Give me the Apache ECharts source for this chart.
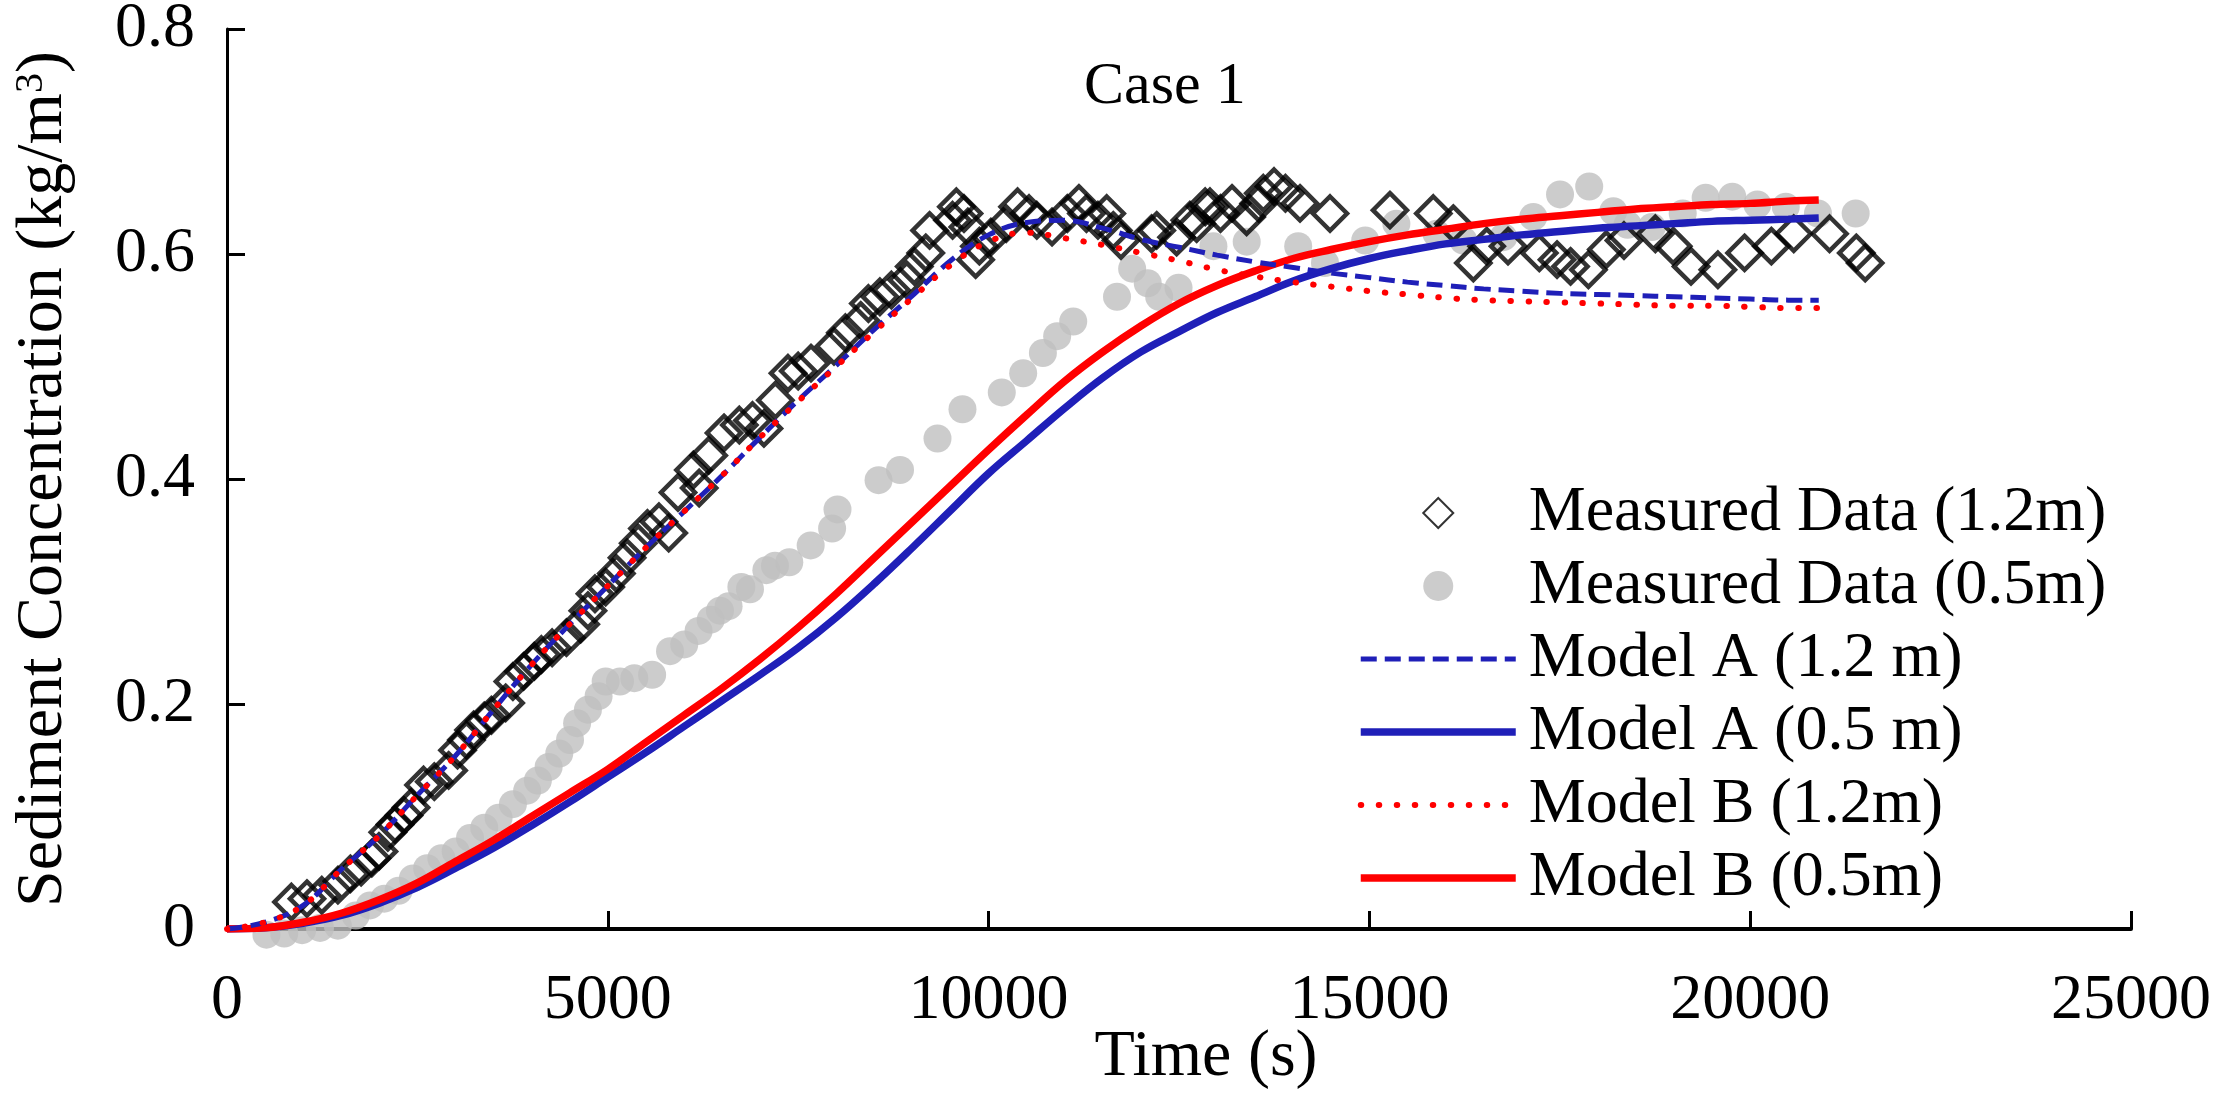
<!DOCTYPE html>
<html>
<head>
    <meta charset="utf-8">
    <title>Case 1</title>
    <script src="https://cdn.jsdelivr.net/npm/echarts@6/dist/echarts.min.js"></script>
    <style>html, body { margin: 0; padding: 0; background: #fff; }</style>
</head>
<body>
    <div id="main" style="width: 2217px;height:1103px;"></div>

    <script type="text/javascript">
        // measured points
        var m12Time = [846, 1050, 1245, 1456, 1620, 1761, 1901, 1995, 2112, 2206, 2323, 2417, 2581, 2722, 2910, 3027, 3144, 3238, 3378, 3472,
            3659, 3754, 3894, 4035, 4128, 4269, 4457, 4644, 4739, 4832, 4972, 5113, 5253, 5400, 5521, 5672, 5800, 5922, 6124, 6200,
            6325, 6526, 6727, 6900, 7050, 7200, 7366, 7500, 7668, 7970, 8120, 8321, 8422, 8573, 8724, 8925, 9024, 9175, 9225, 9527,
            9577, 9677, 9728, 9830, 9879, 10030, 10231, 10381, 10531, 10633, 10833, 11034, 11186, 11285, 11436, 11551, 11637, 11738, 12140, 12207,
            12469, 12643, 12732, 12844, 12907, 13045, 13196, 13388, 13547, 13607, 13748, 13898, 14089, 14483, 15270, 15839, 16102, 16365, 16540, 16820,
            17231, 17464, 17641, 17876, 18111, 18343, 18755, 18989, 19223, 19576, 19926, 20278, 20572, 21042, 21393, 21510];
        var m12Conc = [0.024, 0.027, 0.030, 0.039, 0.049, 0.055, 0.063, 0.069, 0.086, 0.093, 0.101, 0.108, 0.128, 0.131, 0.141, 0.159, 0.168, 0.177, 0.185, 0.190,
            0.201, 0.220, 0.229, 0.238, 0.244, 0.250, 0.259, 0.271, 0.283, 0.298, 0.304, 0.316, 0.330, 0.343, 0.356, 0.362, 0.352, 0.388, 0.408, 0.392,
            0.421, 0.441, 0.448, 0.452, 0.445, 0.470, 0.494, 0.496, 0.503, 0.518, 0.530, 0.541, 0.556, 0.562, 0.568, 0.577, 0.589, 0.601, 0.621, 0.630,
            0.642, 0.636, 0.624, 0.595, 0.607, 0.615, 0.627, 0.642, 0.636, 0.630, 0.624, 0.636, 0.645, 0.636, 0.630, 0.636, 0.621, 0.612, 0.618, 0.621,
            0.615, 0.630, 0.627, 0.642, 0.642, 0.636, 0.645, 0.633, 0.645, 0.654, 0.660, 0.654, 0.645, 0.636, 0.639, 0.636, 0.627, 0.592, 0.607, 0.607,
            0.601, 0.595, 0.589, 0.586, 0.604, 0.612, 0.618, 0.607, 0.589, 0.586, 0.601, 0.607, 0.618, 0.618, 0.601, 0.592];

        var m05Time = [518, 752, 986, 1221, 1456, 1690, 1878, 2065, 2253, 2441, 2628, 2815, 3003, 3191, 3378, 3566, 3754, 3941, 4082, 4223,
            4363, 4504, 4597, 4739, 4879, 4972, 5160, 5348, 5582, 5817, 6004, 6192, 6351, 6473, 6586, 6754, 6867, 7082, 7195, 7383,
            7664, 7945, 8016, 8555, 8837, 9329, 9657, 10173, 10454, 10713, 10900, 11111, 11686, 11885, 12090, 12240, 12494, 12952, 13389, 14065,
            14417, 14945, 15354, 15882, 16233, 16758, 17152, 17503, 17886, 18203, 18390, 18710, 19114, 19415, 19765, 20094, 20467, 20890, 21385];
        var m05Conc = [-0.005, -0.004, -0.001, 0.001, 0.003, 0.012, 0.021, 0.027, 0.034, 0.045, 0.054, 0.063, 0.069, 0.081, 0.090, 0.099, 0.111, 0.123, 0.132, 0.144,
            0.156, 0.168, 0.183, 0.195, 0.207, 0.220, 0.220, 0.223, 0.226, 0.247, 0.253, 0.265, 0.275, 0.283, 0.287, 0.304, 0.302, 0.319, 0.323, 0.326,
            0.341, 0.356, 0.373, 0.399, 0.408, 0.436, 0.462, 0.477, 0.494, 0.512, 0.527, 0.540, 0.562, 0.587, 0.574, 0.562, 0.570, 0.607, 0.611, 0.607,
            0.592, 0.612, 0.627, 0.618, 0.612, 0.615, 0.633, 0.653, 0.660, 0.638, 0.626, 0.624, 0.636, 0.650, 0.651, 0.644, 0.642, 0.636, 0.636];

        // model curves, common time grid (every 500 s)
        var modelTime = [0, 500, 1000, 1500, 2000, 2500, 3000, 3500, 4000, 4500, 5000, 5500, 6000, 6500, 7000, 7500, 8000, 8500,
            9000, 9500, 10000, 10500, 11000, 11500, 12000, 12500, 13000, 13500, 14000, 14500, 15000, 15500, 16000, 16500,
            17000, 17500, 18000, 18500, 19000, 19500, 20000, 20500, 20900];
        var modelA12 = [0, 0.006, 0.021, 0.053, 0.083, 0.119, 0.154, 0.195, 0.235, 0.271, 0.305, 0.339, 0.371, 0.403, 0.437, 0.470, 0.501, 0.533,
            0.563, 0.594, 0.617, 0.628, 0.630, 0.623, 0.613, 0.606, 0.599, 0.593, 0.588, 0.583, 0.579, 0.575, 0.572, 0.569,
            0.567, 0.565, 0.564, 0.563, 0.562, 0.561, 0.560, 0.559, 0.559];
        var modelA05 = [0, 0.001, 0.005, 0.012, 0.023, 0.037, 0.054, 0.072, 0.092, 0.113, 0.135, 0.157, 0.180, 0.203, 0.226, 0.250, 0.277, 0.307,
            0.339, 0.372, 0.405, 0.434, 0.463, 0.490, 0.513, 0.531, 0.548, 0.562, 0.576, 0.587, 0.596, 0.603, 0.609, 0.613,
            0.617, 0.620, 0.623, 0.625, 0.627, 0.629, 0.630, 0.631, 0.632];
        var modelB12 = [0, 0.006, 0.021, 0.053, 0.083, 0.119, 0.154, 0.195, 0.235, 0.271, 0.305, 0.339, 0.371, 0.403, 0.437, 0.469, 0.500, 0.531,
            0.561, 0.590, 0.611, 0.619, 0.614, 0.608, 0.601, 0.594, 0.586, 0.580, 0.575, 0.571, 0.567, 0.564, 0.561, 0.559,
            0.558, 0.557, 0.556, 0.555, 0.554, 0.554, 0.553, 0.552, 0.552];
        var modelB05 = [0, 0.001, 0.006, 0.014, 0.026, 0.041, 0.060, 0.079, 0.100, 0.121, 0.142, 0.166, 0.190, 0.214, 0.240, 0.268, 0.298, 0.330,
            0.362, 0.394, 0.426, 0.457, 0.487, 0.513, 0.536, 0.556, 0.572, 0.585, 0.596, 0.604, 0.611, 0.617, 0.622, 0.627,
            0.631, 0.634, 0.637, 0.640, 0.642, 0.644, 0.645, 0.647, 0.648];

        var xTicks = [0, 5000, 10000, 15000, 20000, 25000];
        var yTicks = [0, 0.2, 0.4, 0.6, 0.8];

        function pairs(xs, ys) {
            var out = [];
            for (var i = 0; i < xs.length; i++) out.push([xs[i], ys[i]]);
            return out;
        }

        var font = 'Liberation Serif';
        var blue = '#1f1fb8';
        var red = '#ff0000';

        var styleA12 = { color: blue, width: 5, type: [16, 8] };
        var styleA05 = { color: blue, width: 7.5 };
        var styleB12 = { color: red, width: 6, type: [0.5, 17.5], cap: 'round' };
        var styleB05 = { color: red, width: 7.5 };

        var myChart = echarts.init(document.getElementById('main'));

        var option = {
            backgroundColor: '#fff',
            animation: false,
            title: {
                text: 'Case 1',
                left: 1084,
                top: 57,
                padding: 0,
                textStyle: { fontFamily: font, fontSize: 60, fontWeight: 'normal', color: '#000' }
            },
            legend: {
                orient: 'vertical',
                left: 1357,
                top: 481,
                padding: 0,
                itemGap: 9,
                itemWidth: 155,
                itemHeight: 30,
                symbolKeepAspect: true,
                textStyle: { fontFamily: font, fontSize: 64, lineHeight: 64, color: '#000', padding: [0, 0, 0, 8] },
                data: [
                    { name: 'Measured Data (1.2m)', icon: 'path://M0,-10L10,0L0,10L-10,0Z' },
                    { name: 'Measured Data (0.5m)' },
                    { name: 'Model A (1.2 m)', itemStyle: { opacity: 0 }, lineStyle: styleA12 },
                    { name: 'Model A (0.5 m)', itemStyle: { opacity: 0 }, lineStyle: styleA05 },
                    { name: 'Model B (1.2m)', itemStyle: { opacity: 0 }, lineStyle: styleB12 },
                    { name: 'Model B (0.5m)', itemStyle: { opacity: 0 }, lineStyle: styleB05 }
                ]
            },
            grid: { left: 227, right: 86, top: 29, bottom: 174, containLabel: false, outerBoundsMode: 'none' },
            xAxis: {
                type: 'value',
                min: xTicks[0],
                max: xTicks[xTicks.length - 1],
                interval: xTicks[1] - xTicks[0],
                name: 'Time (s)',
                nameLocation: 'middle',
                nameGap: 96,
                nameMoveOverlap: false,
                nameTextStyle: { fontFamily: font, fontSize: 66, color: '#000', padding: [0, 0, 0, 54] },
                axisLine: { show: true, onZero: false, lineStyle: { color: '#000', width: 4 } },
                axisTick: { show: true, inside: true, length: 18, lineStyle: { color: '#000', width: 3 } },
                axisLabel: { margin: 40, fontFamily: font, fontSize: 64, color: '#000', formatter: function (v) { return String(v); } },
                splitLine: { show: false }
            },
            yAxis: {
                type: 'value',
                min: yTicks[0],
                max: yTicks[yTicks.length - 1],
                interval: yTicks[1] - yTicks[0],
                name: 'Sediment Concentration (kg/m{sup|3})',
                nameLocation: 'middle',
                nameRotate: 90,
                nameGap: 150,
                nameMoveOverlap: false,
                nameTextStyle: {
                    fontFamily: font, fontSize: 66, color: '#000',
                    rich: { sup: { fontFamily: font, fontSize: 40, color: '#000', verticalAlign: 'top' } }
                },
                axisLine: { show: true, onZero: false, lineStyle: { color: '#000', width: 3 } },
                axisTick: { show: true, inside: true, length: 18, lineStyle: { color: '#000', width: 3 } },
                axisLabel: { margin: 32, fontFamily: font, fontSize: 64, color: '#000' },
                splitLine: { show: false }
            },
            series: [
                {
                    name: 'Measured Data (0.5m)',
                    type: 'scatter',
                    symbol: 'circle',
                    symbolSize: 28,
                    clip: false,
                    z: 1,
                    itemStyle: { color: '#bfbfbf' },
                    data: pairs(m05Time, m05Conc)
                },
                {
                    name: 'Measured Data (1.2m)',
                    type: 'scatter',
                    symbol: 'diamond',
                    symbolSize: 34,
                    clip: false,
                    z: 2,
                    itemStyle: { color: 'rgba(255,255,255,0)', borderColor: '#000', borderWidth: 4.5 },
                    data: pairs(m12Time, m12Conc)
                },
                {
                    name: 'Model A (0.5 m)',
                    type: 'line',
                    symbol: 'none',
                    showSymbol: false,
                    smooth: 0.4,
                    z: 3,
                    color: blue,
                    lineStyle: styleA05,
                    data: pairs(modelTime, modelA05)
                },
                {
                    name: 'Model B (0.5m)',
                    type: 'line',
                    symbol: 'none',
                    showSymbol: false,
                    smooth: 0.4,
                    z: 3,
                    color: red,
                    lineStyle: styleB05,
                    data: pairs(modelTime, modelB05)
                },
                {
                    name: 'Model A (1.2 m)',
                    type: 'line',
                    symbol: 'none',
                    showSymbol: false,
                    smooth: 0.4,
                    z: 4,
                    color: blue,
                    lineStyle: styleA12,
                    data: pairs(modelTime, modelA12)
                },
                {
                    name: 'Model B (1.2m)',
                    type: 'line',
                    symbol: 'none',
                    showSymbol: false,
                    smooth: 0.4,
                    z: 5,
                    color: red,
                    lineStyle: styleB12,
                    data: pairs(modelTime, modelB12)
                }
            ]
        };

        myChart.setOption(option);
    </script>
</body>
</html>
